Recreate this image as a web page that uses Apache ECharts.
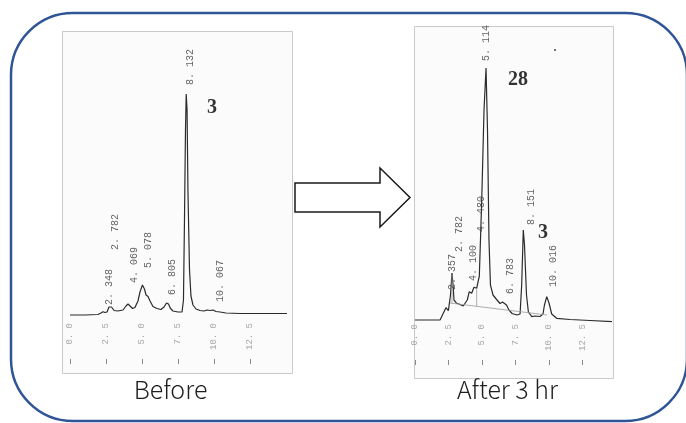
<!DOCTYPE html>
<html><head><meta charset="utf-8">
<script src="https://cdn.jsdelivr.net/npm/echarts@6/dist/echarts.min.js"></script>
<style>html,body{margin:0;padding:0;background:#fff}#c{width:686px;height:423px}</style>
</head><body><div id="c"></div>
<script>
// ---- axis ticks (retention time, min) ----
const tickValues = [0, 2.5, 5, 7.5, 10, 12.5];
const tickLabels = ['0. 0', '2. 5', '5. 0', '7. 5', '10. 0', '12. 5'];

// ---- "Before" chromatogram: [time (min), signal] ----
const beforeTrace = [
  [0,1],[1.04,1],[1.94,1.5],[2.15,3],[2.29,4.3],[2.43,3.5],[2.57,4],[2.71,9],[2.78,10.5],[2.88,9],
  [3.06,5.5],[3.33,5],[3.68,6],[3.89,10],[4.03,12],[4.17,10],[4.34,7.5],[4.51,8.5],[4.72,15],[4.86,24],
  [5.03,31],[5.17,27],[5.28,21],[5.42,19.5],[5.56,15],[5.76,9.5],[6.04,7.5],[6.32,6.5],[6.53,9],[6.70,13],
  [6.84,12],[6.98,7.5],[7.15,5],[7.5,4],[7.78,4],[7.88,16],[7.95,96],[8.02,186],[8.07,222],[8.13,206],
  [8.19,126],[8.30,46],[8.40,20],[8.54,11],[8.75,7],[9.03,5.5],[9.31,5],[9.51,6],[9.72,5.5],[9.93,6],
  [10.14,4.5],[10.42,4],[10.83,3],[11.81,2.5],[13.19,2.5],[15.07,2.5]
];
const beforePeakNames  = ['2. 348','2. 782','4. 069','5. 078','6. 805','8. 132','10. 067'];
const beforePeakTimes  = [2.71, 3.13, 4.44, 5.42, 7.08, 8.33, 10.42];
const beforePeakLevels = [11, 66, 33, 48, 21, 231, 14];
const beforeCompound = [{ name: '3', t: 9.86, level: 208 }];

// ---- "After 3 hr" chromatogram ----
const afterTrace = [
  [0,2],[1.12,2],[1.87,2],[2.11,8.7],[2.31,14.3],[2.49,11.3],[2.65,27],[2.76,49],[2.84,37],[2.91,22],
  [3.11,18.7],[3.36,17.5],[3.60,16],[3.90,22],[4.05,30.3],[4.23,28.7],[4.40,34.7],[4.60,33.7],[4.80,46],
  [4.98,122],[5.15,212],[5.30,254],[5.41,192],[5.52,82],[5.63,37],[5.82,27],[6.12,22],[6.34,18.5],
  [6.53,20],[6.66,21.3],[6.83,17],[7.01,12],[7.24,8.5],[7.61,7],[7.84,8],[7.96,37],[8.08,92],[8.17,77],
  [8.32,27],[8.46,10],[8.71,5.3],[8.96,6],[9.10,7],[9.33,5.5],[9.55,8],[9.66,17],[9.83,25.3],[10.0,19],
  [10.20,8],[10.57,3.7],[11.57,2.5],[13.06,1.5],[14.70,0.3]
];
const afterPeakNames  = ['2. 357','2. 782','4. 100','4. 480','5. 114','6. 783','8. 151','10. 016'];
const afterPeakTimes  = [2.76, 3.28, 4.37, 4.93, 5.30, 7.09, 8.66, 10.30];
const afterPeakLevels = [32, 70, 41, 90, 261, 28, 97, 35];
const afterCompound = [{ name: '28', t: 7.69, level: 242 }, { name: '3', t: 9.55, level: 89 }];
// integration baseline + drop lines drawn by the integrator
const afterBaselineSegments = [
  [[2.61, 19], [9.85, 7]],
  [[2.76, 47], [2.76, 18.8]],
  [[4.60, 34], [4.60, 15.7]]
];

const captions = ['Before', 'After 3 hr'];

// ---------------- chart ----------------
const chart = echarts.init(document.getElementById('c'), null, { renderer: 'canvas' });
const mono = 'Liberation Mono';

function labelAxis(gi, max, margin) {
  return {
    type: 'value', gridIndex: gi, min: 0, max: max, interval: 2.5, position: 'bottom',
    axisLine: { show: false }, axisTick: { show: false }, splitLine: { show: false },
    axisLabel: {
      show: true, rotate: 90, margin: margin, customValues: tickValues,
      color: '#a8a8a8', fontFamily: mono, fontSize: 9,
      formatter: v => tickLabels[tickValues.indexOf(v)]
    }
  };
}
function tickAxis(gi, max, offset) {
  return {
    type: 'value', gridIndex: gi, min: 0, max: max, interval: 2.5, position: 'bottom', offset: offset,
    axisLine: { show: false }, splitLine: { show: false }, axisLabel: { show: false },
    axisTick: { show: true, length: 5, customValues: tickValues, lineStyle: { color: '#8a8a8a', width: 1 } }
  };
}
function peakLabels(xi, yi, names, times, levels) {
  return {
    type: 'scatter', xAxisIndex: xi, yAxisIndex: yi, symbolSize: 1, silent: true,
    itemStyle: { color: 'rgba(0,0,0,0)' }, z: 5,
    data: names.map((n, i) => ({ name: n, value: [times[i], levels[i]] })),
    label: {
      show: true, formatter: '{b}', position: 'inside', rotate: 90, align: 'left', verticalAlign: 'middle',
      color: '#3c3c3c', fontFamily: mono, fontSize: 10
    }
  };
}
function compoundLabels(xi, yi, list) {
  return {
    type: 'scatter', xAxisIndex: xi, yAxisIndex: yi, symbolSize: 1, silent: true,
    itemStyle: { color: 'rgba(0,0,0,0)' }, z: 5,
    data: list.map(c => ({ name: c.name, value: [c.t, c.level] })),
    label: {
      show: true, formatter: '{b}', position: 'inside', align: 'center', verticalAlign: 'middle',
      color: '#000', fontFamily: 'Liberation Serif', fontWeight: 'bold', fontSize: 20
    }
  };
}
function traceSeries(xi, yi, data, color, width) {
  return {
    type: 'line', xAxisIndex: xi, yAxisIndex: yi, data: data, symbol: 'none', silent: true, z: 3,
    lineStyle: { color: color, width: width }, animation: false
  };
}

const series = [
  traceSeries(0, 0, beforeTrace, '#2b2b2b', 1.2),
  peakLabels(0, 0, beforePeakNames, beforePeakTimes, beforePeakLevels),
  compoundLabels(0, 0, beforeCompound),
  traceSeries(2, 1, afterTrace, '#2b2b2b', 1.2),
  peakLabels(2, 1, afterPeakNames, afterPeakTimes, afterPeakLevels),
  compoundLabels(2, 1, afterCompound)
];
afterBaselineSegments.forEach(seg => series.push(traceSeries(2, 1, seg, '#9a9a9a', 0.8)));

const option = {
  animation: false,
  backgroundColor: '#ffffff',
  grid: [
    { left: 70, top: 31, width: 217, height: 285, containLabel: false, outerBoundsMode: 'none' },
    { left: 415, top: 26, width: 197, height: 296, containLabel: false, outerBoundsMode: 'none' }
  ],
  xAxis: [
    labelAxis(0, 15.07, 7),
    tickAxis(0, 15.07, 43),
    labelAxis(1, 14.7, 2),
    tickAxis(1, 14.7, 38)
  ],
  yAxis: [
    { type: 'value', gridIndex: 0, min: 0, max: 285, show: false },
    { type: 'value', gridIndex: 1, min: 0, max: 296, show: false }
  ],
  graphic: [
    { type: 'rect', z: -10, shape: { x: 11, y: 13, width: 676, height: 408, r: 62 },
      style: { fill: '#ffffff', stroke: '#2f5597', lineWidth: 2.5 } },
    { type: 'rect', z: -9, shape: { x: 62.5, y: 31.5, width: 230, height: 342 },
      style: { fill: '#fbfbfb', stroke: '#cacaca', lineWidth: 1 } },
    { type: 'rect', z: -9, shape: { x: 414.5, y: 26.5, width: 199, height: 352 },
      style: { fill: '#fbfbfb', stroke: '#cacaca', lineWidth: 1 } },
    { type: 'polygon', z: 10, shape: { points: [[295,183],[380,183],[380,168],[410,197.5],[380,227],[380,212],[295,212]] },
      style: { fill: '#ffffff', stroke: '#1a1a1a', lineWidth: 1.5 } },
    { type: 'circle', z: 10, shape: { cx: 555, cy: 50, r: 1 }, style: { fill: '#444' } },
    { type: 'text', z: 10, style: { text: captions[0], x: 170.5, y: 389, align: 'center', verticalAlign: 'middle',
      font: '300 25px "Noto Sans CJK JP", "Noto Sans", sans-serif', fill: '#1e1e1e' } },
    { type: 'text', z: 10, style: { text: captions[1], x: 507.5, y: 389, align: 'center', verticalAlign: 'middle',
      font: '300 25px "Noto Sans CJK JP", "Noto Sans", sans-serif', fill: '#1e1e1e' } }
  ],
  series: series
};
chart.setOption(option);
</script>
</body></html>
